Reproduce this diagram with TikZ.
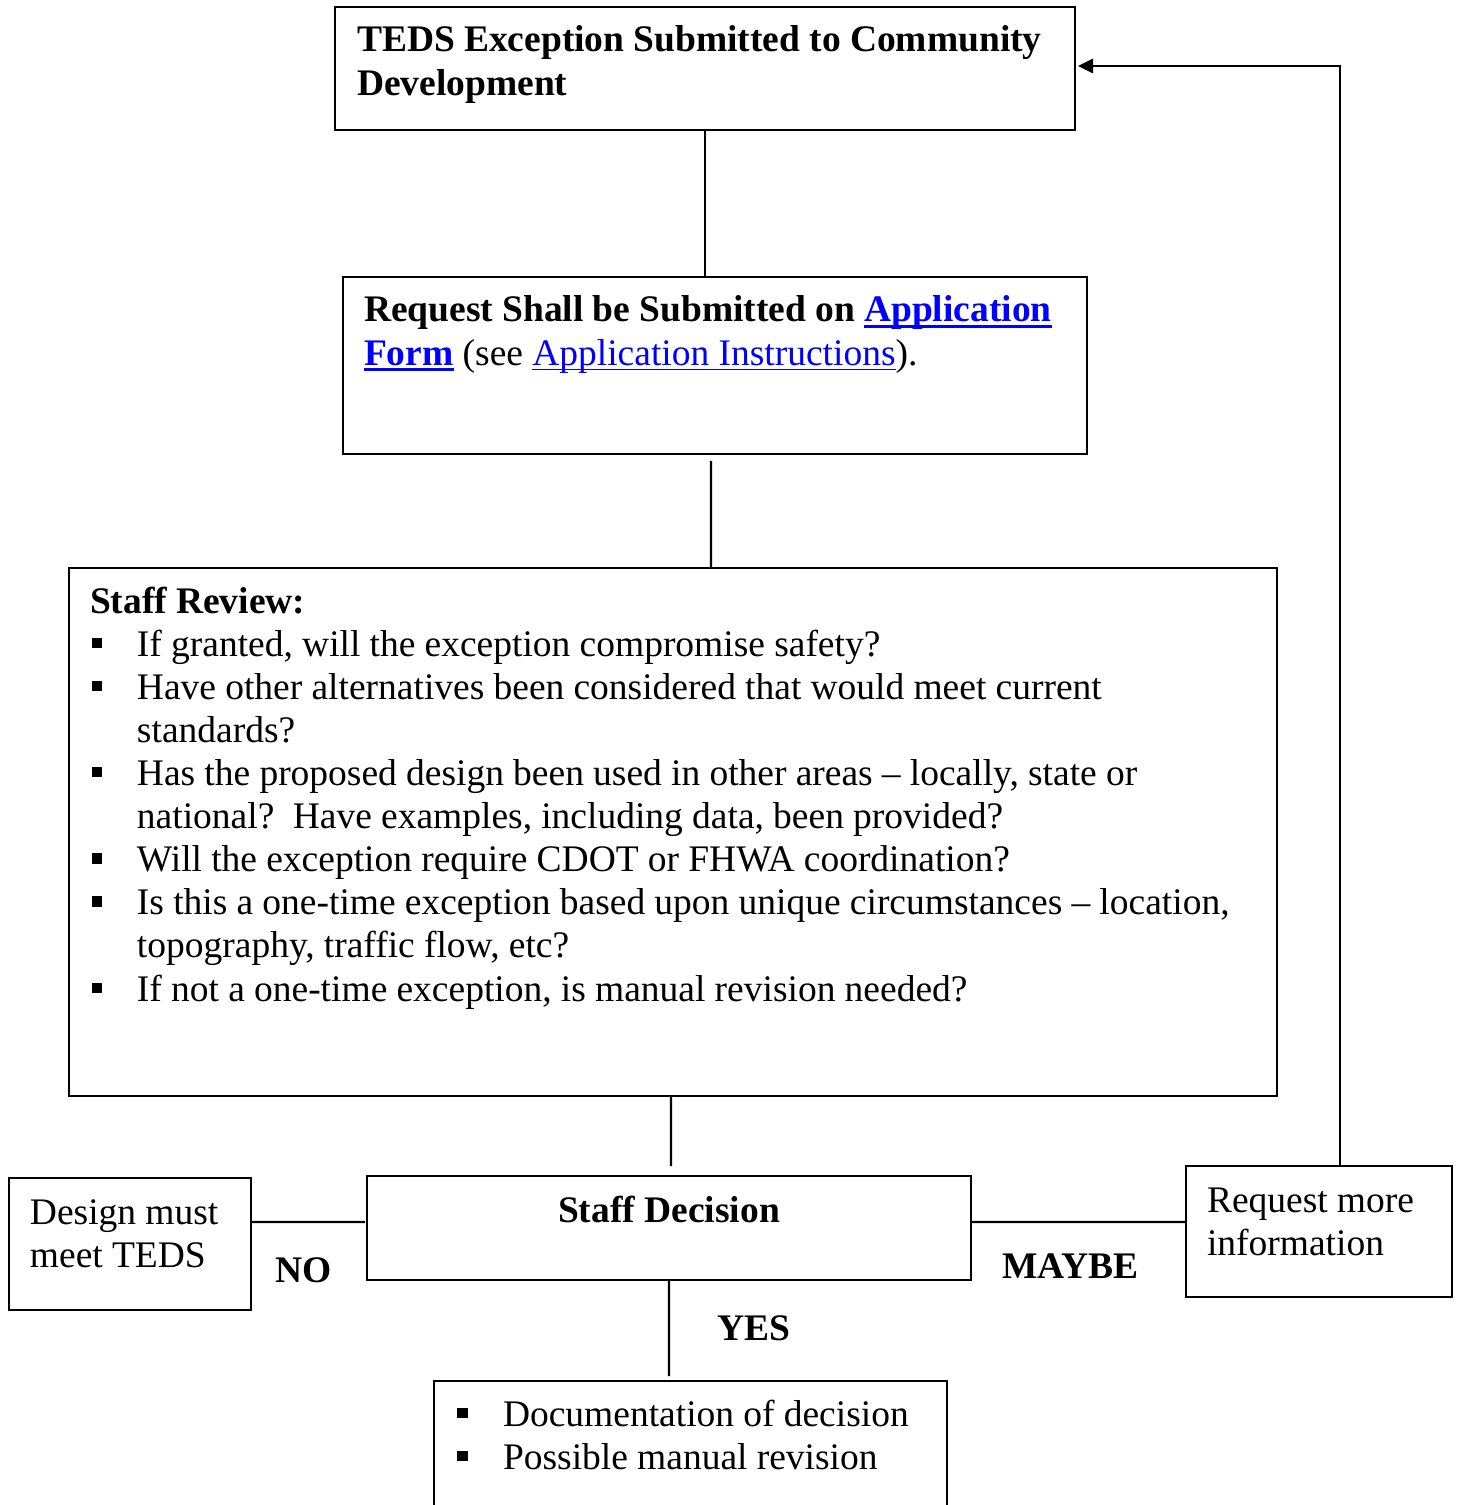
\documentclass[tikz,border=0pt]{standalone}
\usepackage{fontspec}
\setmainfont{Liberation Serif}
\usetikzlibrary{arrows.meta,calc}
\newdimen\upx \upx=0.32pt
\definecolor{linkblue}{RGB}{0,0,255}
\newcommand\sqb{\raisebox{8\upx}{\rule{10.5\upx}{10.5\upx}}}
\newcommand\ulnk[3]{\leavevmode\setbox0=\hbox{#3}\rlap{\rule[#1]{\wd0}{#2}}\box0}
\begin{document}
\begin{tikzpicture}[x=0.32pt,y=-0.32pt,
  every node/.style={font=\fontsize{12}{13.8}\selectfont, inner sep=0pt, outer sep=0pt},
  box/.style={draw, line width=0.65pt, anchor=north west},
  txt/.style={anchor=base west, align=left, execute at begin node={\spaceskip=0.245em\relax\xspaceskip=0.245em\relax}},
  conn/.style={line width=0.7pt},
  arr/.style={line width=0.7pt, -{Triangle[length=4.8pt,width=4.6pt]}}]
\useasboundingbox (0,0) rectangle (1459,1505);
\clip (0,0) rectangle (1459,1505);
% boxes
\node[box, minimum width=236.8pt, minimum height=39.36pt] (b1) at (335,7) {};
\node[box, minimum width=238.08pt, minimum height=56.64pt] (b2) at (343,277) {};
\node[box, minimum width=386.56pt, minimum height=168.96pt] (b3) at (69,568) {};
\node[box, minimum width=193.28pt, minimum height=33.28pt] (dec) at (367,1176) {};
\node[box, minimum width=77.44pt, minimum height=42.24pt] (des) at (9,1178) {};
\node[box, minimum width=85.12pt, minimum height=41.92pt] (req) at (1186,1166) {};
\node[box, minimum width=164.16pt, minimum height=48pt] (doc) at (434,1381) {};
% texts
\node[txt, text width=700\upx] (t1) at (357,52) {\textbf{TEDS Exception Submitted to Community}\\\textbf{Development}};
\node[txt, text width=720\upx] (t2) at (364,322) {\textbf{Request Shall be Submitted on }{\color{linkblue}\ulnk{-2pt}{1pt}{\textbf{Application}}}\\{\color{linkblue}\ulnk{-2pt}{1pt}{\textbf{Form}}} (see {\color{linkblue}\ulnk{-1.7pt}{0.45pt}{Application Instructions}}).};
\node[txt, text width=1180\upx] (t3) at (90,613) {\textbf{Staff Review:}\\
\hspace*{2\upx}\sqb\hspace*{34.5\upx}If granted, will the exception compromise safety?\\
\hspace*{2\upx}\sqb\hspace*{34.5\upx}Have other alternatives been considered that would meet current\\
\hspace*{47\upx}standards?\\
\hspace*{2\upx}\sqb\hspace*{34.5\upx}Has the proposed design been used in other areas -- locally, state or\\
\hspace*{47\upx}national?\ \ Have examples, including data, been provided?\\
\hspace*{2\upx}\sqb\hspace*{34.5\upx}Will the exception require CDOT or FHWA coordination?\\
\hspace*{2\upx}\sqb\hspace*{34.5\upx}Is this a one-time exception based upon unique circumstances -- location,\\
\hspace*{47\upx}topography, traffic flow, etc?\\
\hspace*{2\upx}\sqb\hspace*{34.5\upx}If not a one-time exception, is manual revision needed?};
\node[anchor=base] (t4) at (669,1222) {\textbf{Staff Decision}};
\node[txt, text width=220\upx] (t5) at (30,1224) {Design must\\meet TEDS};
\node[txt, text width=240\upx] (t6) at (1207,1212) {Request more\\information};
\node[txt, text width=480\upx] (t7) at (457,1426) {\sqb\hspace*{35.5\upx}Documentation of decision\\
\sqb\hspace*{35.5\upx}Possible manual revision};
\node[anchor=base west] (lno) at (275,1282) {\textbf{NO}};
\node[anchor=base west] (lmaybe) at (1002,1278) {\textbf{MAYBE}};
\node[anchor=base west] (lyes) at (717,1340) {\textbf{YES}};
% connectors
\draw[conn] (b1.south) -- (b1.south |- b2.north);
\draw[conn] ($(b2.south)+(-4,7)$) -- ($(b3.north)+(38,0)$);
\draw[conn] ($(b3.south)+(-2,0)$) -- ($(dec.north)+(2,-10)$);
\draw[conn] ($(des.east)+(0,-22)$) -- ($(dec.west)+(-2,-6)$);
\draw[conn] ($(dec.east)+(0,-6)$) -- ($(req.west)+(0,-9.5)$);
\draw[conn] (dec.south) -- ($(doc.north)+(-21.5,-5)$);
\draw[arr] ($(req.north)+(21,0)$) |- ($(b1.east)+(3,-2.5)$);
\end{tikzpicture}
\end{document}
